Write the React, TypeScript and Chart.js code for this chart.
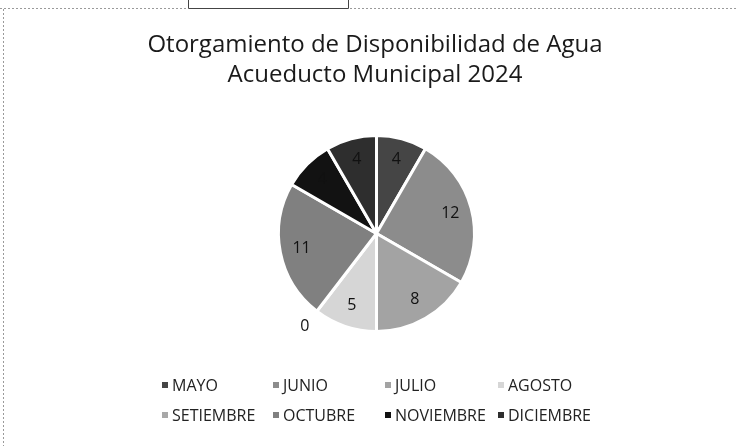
import React, { useEffect, useRef } from "react";
import { Chart, registerables } from "chart.js";

Chart.register(...registerables);

const months = ["MAYO", "JUNIO", "JULIO", "AGOSTO", "SETIEMBRE", "OCTUBRE", "NOVIEMBRE", "DICIEMBRE"];
const values = [4, 12, 8, 5, 0, 11, 4, 4];
const colors = ["#454545", "#8c8c8c", "#a3a3a3", "#d6d6d6", "#a8a8a8", "#808080", "#121212", "#2e2e2e"];
const titleLines = ["Otorgamiento de Disponibilidad de Agua", "Acueducto Municipal 2024"];

const FONT = "'Open Sans', 'DejaVu Sans', sans-serif";

const extrasPlugin = {
  id: "extras",
  afterDatasetsDraw(chart: any) {
    const ctx = chart.ctx as CanvasRenderingContext2D;
    const meta = chart.getDatasetMeta(0);
    ctx.save();
    ctx.font = `16px ${FONT}`;
    ctx.fillStyle = "#111";
    ctx.textAlign = "center";
    ctx.textBaseline = "middle";
    meta.data.forEach((arc: any, i: number) => {
      const p = arc.getProps(["x", "y", "startAngle", "endAngle", "outerRadius"], true);
      const mid = (p.startAngle + p.endAngle) / 2;
      const r = values[i] === 0 ? p.outerRadius * 1.2 : p.outerRadius * 0.78;
      ctx.fillText(String(values[i]), p.x + Math.cos(mid) * r, p.y + Math.sin(mid) * r);
    });
    ctx.restore();
  },
  afterDraw(chart: any) {
    const ctx = chart.ctx as CanvasRenderingContext2D;
    const w = chart.width;
    ctx.save();
    // frame (scan artefacts)
    ctx.strokeStyle = "#9a9a9a";
    ctx.lineWidth = 1;
    ctx.setLineDash([2, 2]);
    ctx.beginPath();
    ctx.moveTo(0, 8.5);
    ctx.lineTo(186, 8.5);
    ctx.moveTo(350, 8.5);
    ctx.lineTo(w, 8.5);
    ctx.moveTo(3.5, 9);
    ctx.lineTo(3.5, chart.height);
    ctx.stroke();
    ctx.setLineDash([]);
    ctx.strokeStyle = "#444";
    ctx.beginPath();
    ctx.moveTo(188.5, 0);
    ctx.lineTo(188.5, 8.5);
    ctx.lineTo(348.5, 8.5);
    ctx.lineTo(348.5, 0);
    ctx.stroke();

    // title
    ctx.fillStyle = "#1a1a1a";
    ctx.font = `24px ${FONT}`;
    ctx.textAlign = "center";
    ctx.textBaseline = "middle";
    ctx.fillText(titleLines[0], 375, 45);
    ctx.fillText(titleLines[1], 375, 75);

    // legend grid
    const colX = [162, 273, 385, 498];
    const rowY = [385, 415];
    ctx.font = `16px ${FONT}`;
    ctx.textAlign = "left";
    months.forEach((m, i) => {
      const cx = colX[i % 4];
      const cy = rowY[Math.floor(i / 4)];
      ctx.fillStyle = colors[i];
      ctx.fillRect(cx, cy - 3, 6, 6);
      ctx.fillStyle = "#222";
      ctx.fillText(m, cx + 10, cy + 1);
    });
    ctx.restore();
  },
};

export default function App() {
  const ref = useRef<HTMLCanvasElement>(null);
  useEffect(() => {
    document.body.style.margin = "0";
    const chart = new Chart(ref.current!, {
      type: "pie",
      data: {
        labels: months,
        datasets: [
          {
            data: values,
            backgroundColor: colors,
            borderColor: "#ffffff",
            borderWidth: 3,
          },
        ],
      },
      options: {
        responsive: false,
        animation: false,
        layout: { padding: { left: 275, right: 259, top: 134, bottom: 113 } },
        plugins: {
          legend: { display: false },
          title: { display: false },
          tooltip: { enabled: false },
        },
      },
      plugins: [extrasPlugin],
    });
    return () => chart.destroy();
  }, []);
  return <canvas ref={ref} width={737} height={446} style={{ display: "block" }} />;
}
